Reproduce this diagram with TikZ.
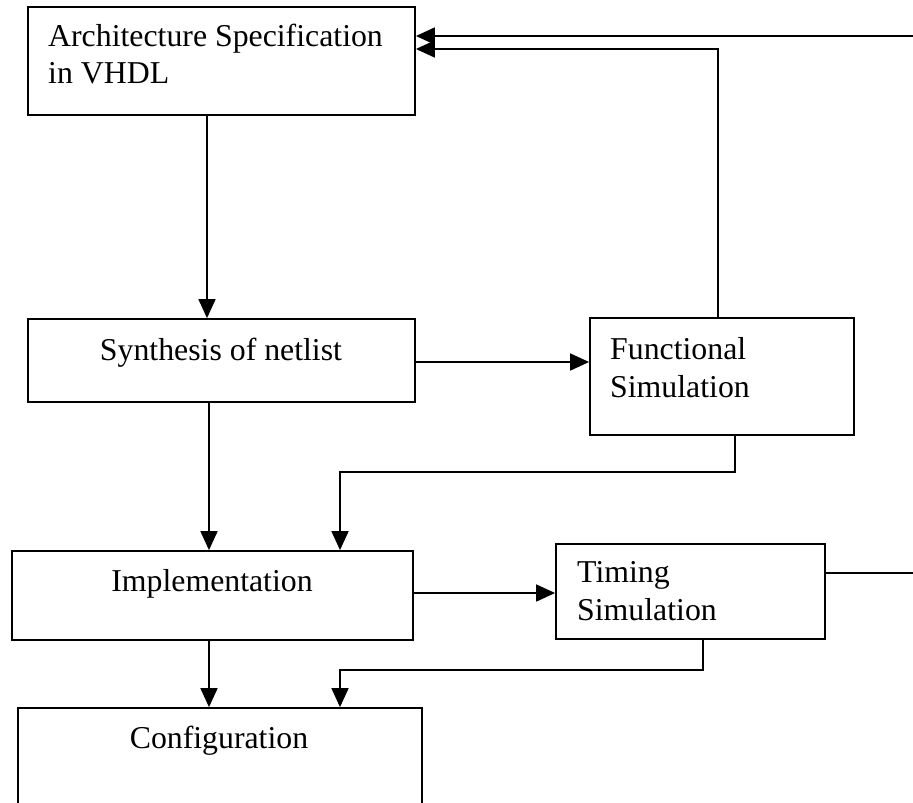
\documentclass[tikz,border=0pt]{standalone}
\usepackage{fontspec}
\setmainfont{Liberation Serif}
\usetikzlibrary{arrows.meta}
\begin{document}
\begin{tikzpicture}[x=1pt,y=-1pt,
  box/.style={draw, line width=1.8pt, rectangle, inner sep=0pt},
  lbl/.style={inner sep=0pt, font=\fontsize{31.8}{37.5}\selectfont, align=left},
  conn/.style={line width=1.8pt},
  arr/.style={conn, -{Triangle[length=19pt,width=17pt]}}]
\useasboundingbox (0,0) rectangle (913,803);
\clip (0,0) rectangle (913,803);
% boxes
\node[box, minimum width=387pt, minimum height=108pt] (arch) at (221.5,61) {};
\node[box, minimum width=387pt, minimum height=83pt] (synth) at (221.5,360.5) {};
\node[box, minimum width=264pt, minimum height=117pt] (func) at (722,376.5) {};
\node[box, minimum width=401pt, minimum height=89pt] (impl) at (212.5,595.5) {};
\node[box, minimum width=269pt, minimum height=95pt] (timing) at (690.5,591.5) {};
\node[box, minimum width=404pt, minimum height=132pt] (config) at (220,774) {};
% texts (base anchor = baseline of the last line)
\node[lbl, anchor=base west] (archtxt) at (48,83.5) {Architecture Specification\\in VHDL};
\node[lbl, anchor=base] (synthtxt) at (221,360) {Synthesis of netlist};
\node[lbl, anchor=base west] (functxt) at (610,397) {Functional\\Simulation};
\node[lbl, anchor=base] (impltxt) at (212,591) {Implementation};
\node[lbl, anchor=base west] (timtxt) at (577,620) {Timing\\Simulation};
\node[lbl, anchor=base] (conftxt) at (219,748) {Configuration};
% connectors
\coordinate (offtop) at (913,36);
\coordinate (offright) at (913,573);
\draw[arr] (207,0 |- arch.south) -- (207,0 |- synth.north);
\draw[arr] (synth.east |- 0,362) -- (func.west |- 0,362);
\draw[arr] (718,0 |- func.north) -- (718,49) -- (arch.east |- 0,49);
\draw[arr] (offtop) -- (arch.east |- offtop);
\draw[arr] (209,0 |- synth.south) -- (209,0 |- impl.north);
\draw[arr] (735,0 |- func.south) -- (735,472) -- (340,472) -- (340,0 |- impl.north);
\draw[arr] (impl.east |- 0,593) -- (timing.west |- 0,593);
\draw[arr] (209,0 |- impl.south) -- (209,0 |- config.north);
\draw[arr] (703,0 |- timing.south) -- (703,670) -- (340,670) -- (340,0 |- config.north);
\draw[conn] (timing.east |- offright) -- (offright);
\end{tikzpicture}
\end{document}
